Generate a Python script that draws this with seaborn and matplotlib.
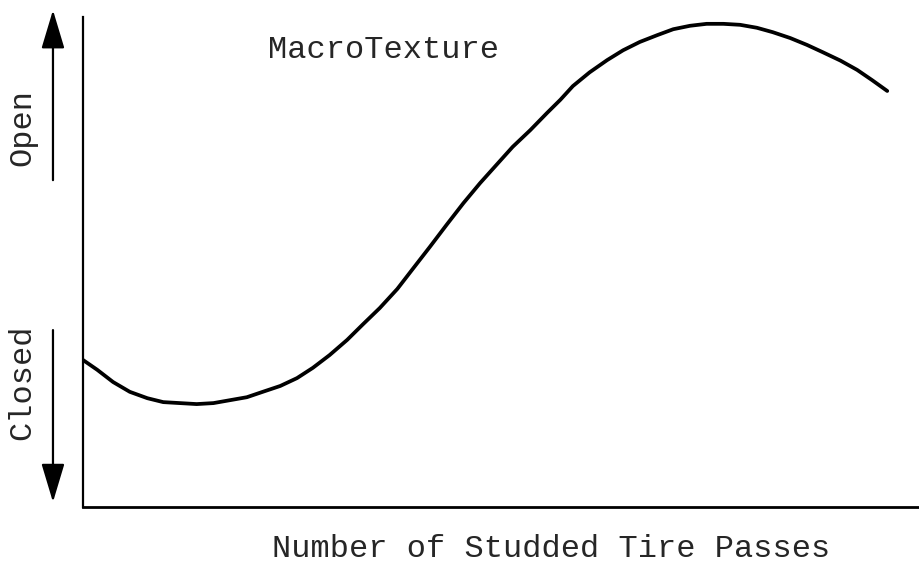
import pandas as pd
import matplotlib
matplotlib.use("Agg")
import matplotlib.pyplot as plt
import seaborn as sns

# Schematic curve (relative units, 0-100 on both axes)
passes = [0, 1.7, 3.6, 5.6, 7.7, 9.6, 11.6, 13.6, 15.6, 17.6, 19.6, 21.5,
          23.6, 25.6, 27.5, 29.5, 31.6, 33.5, 35.5, 37.6, 39.5, 41.5, 43.5,
          45.5, 47.5, 49.5, 51.4, 53.5, 55.5, 57.1, 58.6, 60.6, 62.7, 64.6,
          66.6, 68.7, 70.6, 72.6, 74.6, 76.6, 78.6, 80.6, 82.5, 84.6, 86.6,
          88.5, 90.6, 92.6, 94.4, 96.2]
texture = [30.0, 28.0, 25.5, 23.5, 22.2, 21.4, 21.2, 21.0, 21.2, 21.8, 22.4, 23.5,
           24.7, 26.3, 28.4, 31.0, 34.1, 37.3, 40.6, 44.5, 48.7, 53.1, 57.6,
           62.0, 66.1, 69.9, 73.5, 76.9, 80.4, 83.1, 85.9, 88.7, 91.2, 93.2,
           94.9, 96.3, 97.5, 98.2, 98.6, 98.6, 98.4, 97.8, 96.9, 95.7, 94.3,
           92.8, 91.1, 89.2, 87.1, 84.9]

df = pd.DataFrame({"passes": passes, "texture": texture})

sns.set_style("white")
plt.rcParams["font.family"] = ["Liberation Mono", "DejaVu Sans Mono"]

fig = plt.figure(figsize=(9.19, 5.64), dpi=100)
ax = fig.add_axes([0.0903, 0.1011, 0.9097, 0.8688])

sns.lineplot(data=df, x="passes", y="texture", ax=ax, color="black",
             linewidth=2.7, sort=False, solid_capstyle="round",
             solid_joinstyle="round")

ax.set_xlim(0, 100)
ax.set_ylim(0, 100)
ax.set_xticks([])
ax.set_yticks([])
ax.set_xlabel("")
ax.set_ylabel("")
for side in ["top", "right"]:
    ax.spines[side].set_visible(False)
ax.spines["left"].set_linewidth(1.6)
ax.spines["bottom"].set_linewidth(2.0)
ax.spines["left"].set_color("black")
ax.spines["bottom"].set_color("black")

ax.text(0.359, 0.932, "MacroTexture", transform=ax.transAxes, fontsize=23,
        ha="center", va="center")
fig.text(551 / 919, 1 - 549 / 564, "Number of Studded Tire Passes",
         fontsize=23, ha="center", va="center")

fig.text(22 / 919, 1 - 127 / 564, "Open", rotation=90, fontsize=23,
         ha="center", va="center")
fig.text(22 / 919, 1 - 382 / 564, "Closed", rotation=90, fontsize=23,
         ha="center", va="center")

arrow = dict(arrowstyle="-|>,head_length=0.6,head_width=0.18", color="black",
             lw=1.6, shrinkA=0, shrinkB=0, mutation_scale=40)
ax.annotate("", xy=(-0.0359, 1.014), xytext=(-0.0359, 0.667),
            xycoords="axes fraction", arrowprops=arrow, annotation_clip=False)
ax.annotate("", xy=(-0.0359, 0.010), xytext=(-0.0359, 0.361),
            xycoords="axes fraction", arrowprops=arrow, annotation_clip=False)

fig.savefig("out.png", dpi=100)
